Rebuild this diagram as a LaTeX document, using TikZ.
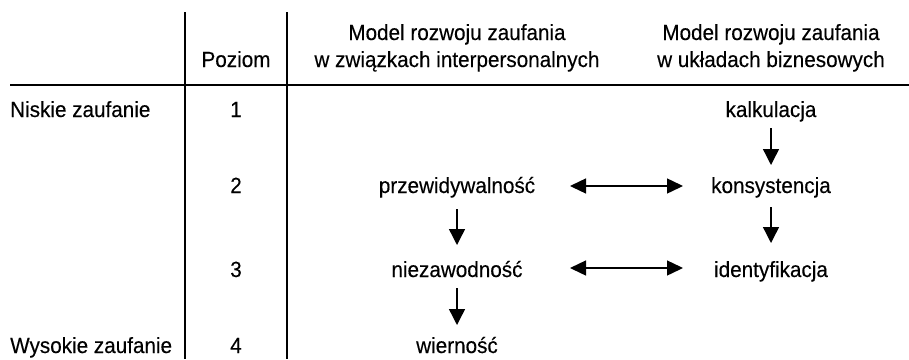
\documentclass[tikz,border=0pt]{standalone}
\usepackage{fontspec}
\setmainfont{Liberation Sans}[FakeStretch=0.94,FakeBold=0.25]
\usetikzlibrary{arrows.meta}
\begin{document}
\begin{tikzpicture}[x=1pt,y=-1pt,
  txt/.style={anchor=base,inner sep=0pt,font=\fontsize{22}{26}\selectfont},
  rule/.style={line width=1.4pt},
  arr/.style={line width=1.4pt,-{Triangle[length=16pt,width=16pt]}},
  darr/.style={line width=1.4pt,{Triangle[length=16pt,width=15pt]}-{Triangle[length=16pt,width=15pt]}}]
\useasboundingbox (0,0) rectangle (909,359);
% grid lines
\coordinate (v1t) at (185,12); \coordinate (v1b) at (185,359);
\coordinate (v2t) at (287,12); \coordinate (v2b) at (287,359);
\coordinate (hl) at (10,85); \coordinate (hr) at (909,85);
\draw[rule] (v1t) -- (v1b);
\draw[rule] (v2t) -- (v2b);
\draw[rule] (hl) -- (hr);
% header
\node[txt] (poz) at (236,67) {Poziom};
\node[txt] (h2a) at (457,40) {Model rozwoju zaufania};
\node[txt] (h2b) at (457,67) {w związkach interpersonalnych};
\node[txt] (h3a) at (771,40) {Model rozwoju zaufania};
\node[txt] (h3b) at (771,67) {w układach biznesowych};
% left labels
\node[txt,anchor=base west] (low) at (10,117) {Niskie zaufanie};
\node[txt,anchor=base west] (high) at (10,353) {Wysokie zaufanie};
% level numbers
\node[txt] (l1) at (236,117) {1};
\node[txt] (l2) at (236,193) {2};
\node[txt] (l3) at (236,277) {3};
\node[txt] (l4) at (236,353) {4};
% interpersonal
\node[txt] (p) at (457,193) {przewidywalność};
\node[txt] (n) at (457,277) {niezawodność};
\node[txt] (w) at (457,353) {wierność};
% business
\node[txt] (k) at (771,117) {kalkulacja};
\node[txt] (ko) at (771,193) {konsystencja};
\node[txt] (id) at (771,277) {identyfikacja};
% arrows
\draw[arr] (k.south |- 0,128) -- (ko.north |- 0,165);
\draw[arr] (ko.south |- 0,207) -- (id.north |- 0,243);
\draw[arr] (p.south |- 0,209) -- (n.north |- 0,245);
\draw[arr] (n.south |- 0,288) -- (w.north |- 0,325);
\draw[darr] (570,186) coordinate (a1) -- (683,186) coordinate (b1);
\draw[darr] (570,268) coordinate (a2) -- (683,268) coordinate (b2);
\end{tikzpicture}
\end{document}
